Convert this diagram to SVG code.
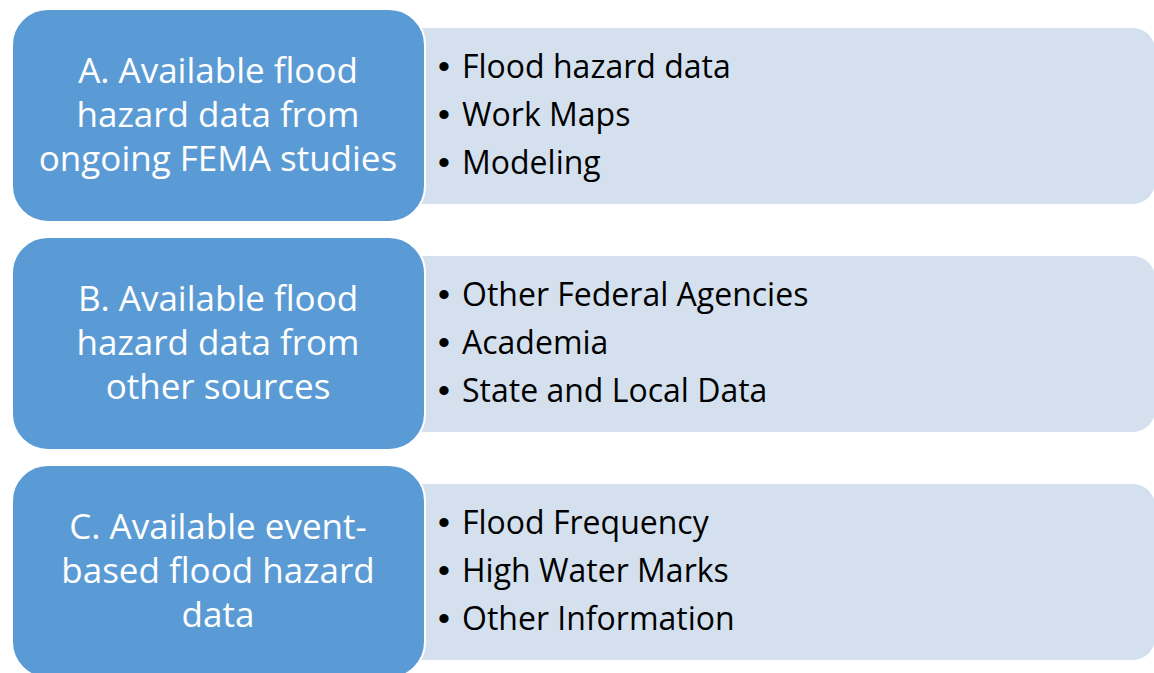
<svg xmlns="http://www.w3.org/2000/svg" width="1154" height="673" viewBox="0 0 1154 673">
  <style>
    .panel { fill: #D5E0EF; }
    .head { fill: #5B9BD5; stroke: #FFFFFF; stroke-width: 2; }
    .ht { font-family: "Open Sans", "Liberation Sans", sans-serif; font-size: 35px; fill: #FFFFFF; text-anchor: middle; }
    .bt { font-family: "Open Sans", "Liberation Sans", sans-serif; font-size: 32px; fill: #000000; }
    .dot { font-family: "Liberation Sans", sans-serif; font-size: 34px; }
  </style>
  <rect width="1154" height="673" fill="#FFFFFF"/>

  <!-- Row A -->
  <g id="row-a">
    <rect class="panel" x="380" y="28" width="775" height="176" rx="22"/>
    <rect class="head" x="12" y="9" width="413" height="213" rx="36"/>
    <text class="ht" x="218" y="83">A. Available flood</text>
    <text class="ht" x="218" y="127">hazard data from</text>
    <text class="ht" x="218" y="171">ongoing FEMA studies</text>
    <g class="bt">
      <text x="438" y="78"><tspan class="dot">•</tspan><tspan x="462">Flood hazard data</tspan></text>
      <text x="438" y="126"><tspan class="dot">•</tspan><tspan x="462">Work Maps</tspan></text>
      <text x="438" y="174"><tspan class="dot">•</tspan><tspan x="462">Modeling</tspan></text>
    </g>
  </g>

  <!-- Row B -->
  <g id="row-b">
    <rect class="panel" x="380" y="256" width="775" height="176" rx="22"/>
    <rect class="head" x="12" y="237" width="413" height="213" rx="36"/>
    <text class="ht" x="218" y="311">B. Available flood</text>
    <text class="ht" x="218" y="355">hazard data from</text>
    <text class="ht" x="218" y="399">other sources</text>
    <g class="bt">
      <text x="438" y="306"><tspan class="dot">•</tspan><tspan x="462">Other Federal Agencies</tspan></text>
      <text x="438" y="354"><tspan class="dot">•</tspan><tspan x="462">Academia</tspan></text>
      <text x="438" y="402"><tspan class="dot">•</tspan><tspan x="462">State and Local Data</tspan></text>
    </g>
  </g>

  <!-- Row C -->
  <g id="row-c">
    <rect class="panel" x="380" y="484" width="775" height="176" rx="22"/>
    <rect class="head" x="12" y="465" width="413" height="213" rx="36"/>
    <text class="ht" x="218" y="539">C. Available event-</text>
    <text class="ht" x="218" y="583">based flood hazard</text>
    <text class="ht" x="218" y="627">data</text>
    <g class="bt">
      <text x="438" y="534"><tspan class="dot">•</tspan><tspan x="462">Flood Frequency</tspan></text>
      <text x="438" y="582"><tspan class="dot">•</tspan><tspan x="462">High Water Marks</tspan></text>
      <text x="438" y="630"><tspan class="dot">•</tspan><tspan x="462">Other Information</tspan></text>
    </g>
  </g>

  <!-- no connectors in this layout -->
  <g id="connectors"/>
</svg>
